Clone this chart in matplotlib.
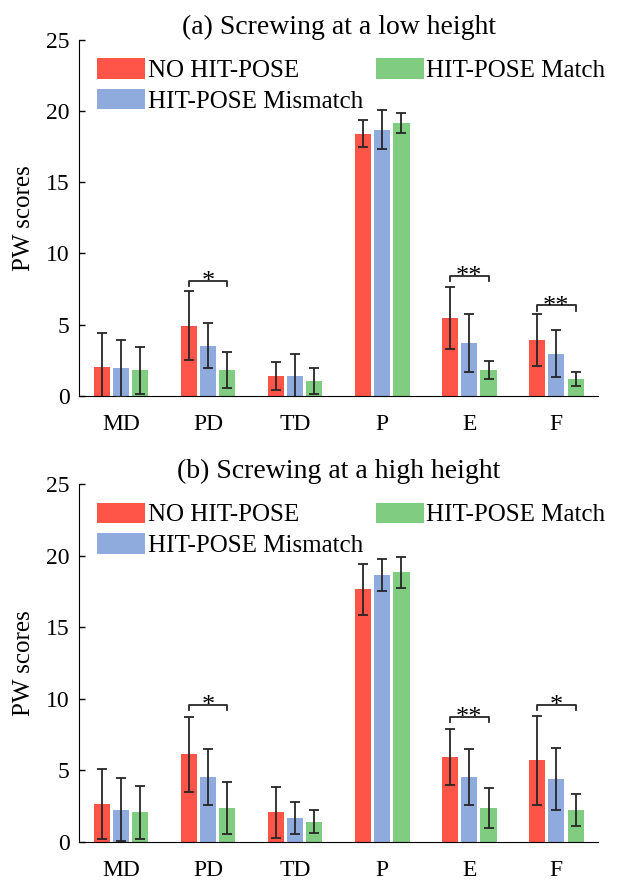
import numpy as np
import matplotlib
matplotlib.use("Agg")
import matplotlib.pyplot as plt

plt.rcParams['font.family'] = ['Liberation Serif', 'DejaVu Serif']
plt.rcParams['font.size'] = 17

# data
categories = ['MD', 'PD', 'TD', 'P', 'E', 'F']
series_names = ['NO HIT-POSE', 'HIT-POSE Mismatch', 'HIT-POSE Match']
colors = ['#ff5549', '#8faadc', '#80cc80']

# (a) low height
low_no = [2.05, 4.94, 1.40, 18.41, 5.50, 3.94]
low_no_sd = [2.40, 2.40, 1.00, 0.97, 2.17, 1.82]
low_mis = [1.96, 3.54, 1.40, 18.67, 3.71, 2.96]
low_mis_sd = [2.00, 1.55, 1.52, 1.36, 2.04, 1.65]
low_match = [1.82, 1.82, 1.05, 19.16, 1.82, 1.21]
low_match_sd = [1.65, 1.25, 0.90, 0.70, 0.66, 0.50]
low_sig = [(1, 8.1, '*'), (4, 8.45, '**'), (5, 6.35, '**')]

# (b) high height
high_no = [2.65, 6.12, 2.07, 17.65, 5.93, 5.70]
high_no_sd = [2.45, 2.63, 1.77, 1.79, 1.98, 3.09]
high_mis = [2.26, 4.53, 1.65, 18.65, 4.53, 4.40]
high_mis_sd = [2.20, 1.96, 1.12, 1.12, 1.96, 2.14]
high_match = [2.07, 2.40, 1.42, 18.84, 2.40, 2.26]
high_match_sd = [1.86, 1.81, 0.78, 1.08, 1.40, 1.12]
high_sig = [(1, 9.6, '*'), (4, 8.75, '**'), (5, 9.6, '*')]

offset = 0.222
width = 0.185


def draw_panel(ax, means, sds, sig, title):
    x = np.arange(len(categories))
    handles = []
    for i in range(3):
        pos = x + (i - 1) * offset
        b = ax.bar(pos, means[i], width, color=colors[i], label=series_names[i], zorder=2)
        ax.errorbar(pos, means[i], yerr=sds[i], fmt='none', ecolor='#262626',
                    elinewidth=1.3, capsize=3.8, capthick=1.3, zorder=3)
        handles.append(b)
    # significance brackets
    for g, h, txt in sig:
        x0, x1 = g - offset, g + offset
        ax.plot([x0, x0, x1, x1], [h - 0.4, h, h, h - 0.4], color='#262626', lw=1.3, zorder=3)
        ax.text(g, h - 0.5, txt, ha='center', va='baseline', fontsize=19)
    ax.set_xlim(-0.48, 5.48)
    ax.set_ylim(0, 25)
    ax.set_yticks([0, 5, 10, 15, 20, 25])
    ax.set_xticks(x)
    ax.set_xticklabels(categories)
    ax.tick_params(direction='in', length=4, width=1, labelsize=17)
    ax.tick_params(axis='x', pad=13)
    ax.tick_params(axis='y', pad=7)
    for s in ['top', 'right']:
        ax.spines[s].set_visible(False)
    ax.set_ylabel('PW scores', fontsize=18, labelpad=8)
    ax.set_title(title, fontsize=20, pad=4)
    ax.legend(handles=handles, ncol=2, loc='upper left', bbox_to_anchor=(0.035, 0.948),
              frameon=False, borderpad=0, borderaxespad=0, handlelength=1.92,
              handleheight=0.88, handletextpad=0.1, labelspacing=0.28,
              columnspacing=0.5, fontsize=18)


fig = plt.figure(figsize=(6.23, 8.8), dpi=100)
ax1 = fig.add_axes([0.127, 0.55, 0.833, 0.405])
ax2 = fig.add_axes([0.127, 0.0432, 0.833, 0.4068])

draw_panel(ax1, [low_no, low_mis, low_match], [low_no_sd, low_mis_sd, low_match_sd],
           low_sig, '(a) Screwing at a low height')
draw_panel(ax2, [high_no, high_mis, high_match], [high_no_sd, high_mis_sd, high_match_sd],
           high_sig, '(b) Screwing at a high height')

fig.savefig('out.png', dpi=100)
